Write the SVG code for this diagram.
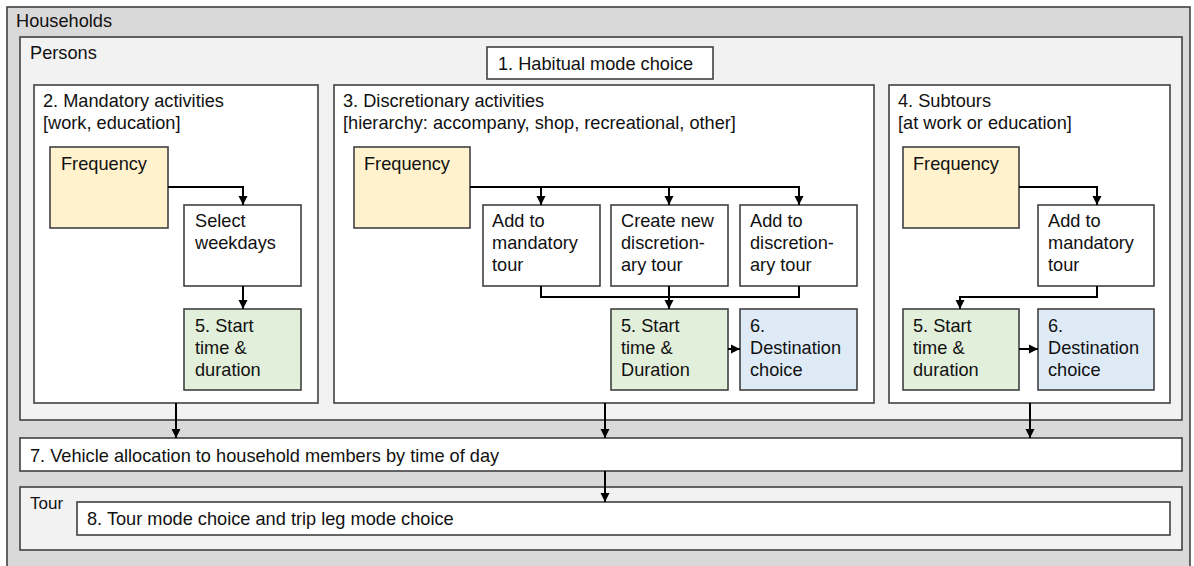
<svg xmlns="http://www.w3.org/2000/svg" width="1194" height="566" viewBox="0 0 1194 566">
<style>
text{font-family:"Liberation Sans",Arial,sans-serif;font-size:18.2px;fill:#111111}
.box{stroke:#404040;stroke-width:1.6}
.w{fill:#ffffff}
.y{fill:#fff2cc}
.g{fill:#e2efda}
.b{fill:#deebf7}
.con{fill:none;stroke:#000;stroke-width:2}
</style>
<defs>
<marker id="ah" markerUnits="userSpaceOnUse" markerWidth="10" markerHeight="10" refX="9" refY="5" orient="auto">
<path d="M0,0.5 L9,5 L0,9.5 z" fill="#000"/>
</marker>
</defs>
<rect width="1194" height="566" fill="#ffffff"/>
<g id="households">
<rect class="box" x="7" y="7" width="1183" height="570" fill="#d9d9d9"/>
<text x="16" y="27">Households</text>
</g>
<g id="persons">
<rect class="box" x="20" y="37" width="1162" height="383" fill="#f2f2f2"/>
<text x="30" y="59">Persons</text>
</g>
<g id="habitual">
<rect class="box w" x="487" y="47" width="226" height="32"/>
<text x="498" y="70">1. Habitual mode choice</text>
</g>
<g id="mandatory">
<rect class="box w" x="34" y="85" width="284" height="318"/>
<text x="43" y="107">2. Mandatory activities</text>
<text x="43" y="129">[work, education]</text>
</g>
<g id="m-frequency">
<rect class="box y" x="50" y="147" width="118" height="81"/>
<text x="61" y="170">Frequency</text>
</g>
<g id="m-weekdays">
<rect class="box w" x="184" y="205" width="117" height="81"/>
<text x="195" y="227">Select</text>
<text x="195" y="249">weekdays</text>
</g>
<g id="m-start">
<rect class="box g" x="184" y="309" width="117" height="81"/>
<text x="195" y="332">5. Start</text>
<text x="195" y="354">time &amp;</text>
<text x="195" y="376">duration</text>
</g>
<g id="discretionary">
<rect class="box w" x="334" y="85" width="540" height="318"/>
<text x="343" y="107">3. Discretionary activities</text>
<text x="343" y="129">[hierarchy: accompany, shop, recreational, other]</text>
</g>
<g id="d-frequency">
<rect class="box y" x="354" y="147" width="116" height="81"/>
<text x="364" y="170">Frequency</text>
</g>
<g id="d-addmand">
<rect class="box w" x="483" y="205" width="117" height="81"/>
<text x="492" y="227">Add to</text>
<text x="492" y="249">mandatory</text>
<text x="492" y="271">tour</text>
</g>
<g id="d-create">
<rect class="box w" x="611" y="205" width="117" height="81"/>
<text x="621" y="227">Create new</text>
<text x="621" y="249">discretion-</text>
<text x="621" y="271">ary tour</text>
</g>
<g id="d-adddisc">
<rect class="box w" x="740" y="205" width="117" height="81"/>
<text x="750" y="227">Add to</text>
<text x="750" y="249">discretion-</text>
<text x="750" y="271">ary tour</text>
</g>
<g id="d-start">
<rect class="box g" x="611" y="309" width="117" height="81"/>
<text x="621" y="332">5. Start</text>
<text x="621" y="354">time &amp;</text>
<text x="621" y="376">Duration</text>
</g>
<g id="d-dest">
<rect class="box b" x="740" y="309" width="117" height="81"/>
<text x="750" y="332">6.</text>
<text x="750" y="354">Destination</text>
<text x="750" y="376">choice</text>
</g>
<g id="subtours">
<rect class="box w" x="889" y="85" width="281" height="318"/>
<text x="898" y="107">4. Subtours</text>
<text x="898" y="129">[at work or education]</text>
</g>
<g id="s-frequency">
<rect class="box y" x="903" y="147" width="116" height="81"/>
<text x="913" y="170">Frequency</text>
</g>
<g id="s-addmand">
<rect class="box w" x="1038" y="205" width="116" height="81"/>
<text x="1048" y="227">Add to</text>
<text x="1048" y="249">mandatory</text>
<text x="1048" y="271">tour</text>
</g>
<g id="s-start">
<rect class="box g" x="903" y="309" width="116" height="81"/>
<text x="913" y="332">5. Start</text>
<text x="913" y="354">time &amp;</text>
<text x="913" y="376">duration</text>
</g>
<g id="s-dest">
<rect class="box b" x="1038" y="309" width="116" height="81"/>
<text x="1048" y="332">6.</text>
<text x="1048" y="354">Destination</text>
<text x="1048" y="376">choice</text>
</g>
<g id="vehicle">
<rect class="box w" x="20" y="438" width="1162" height="33"/>
<text x="30" y="462">7. Vehicle allocation to household members by time of day</text>
</g>
<g id="tour">
<rect class="box" x="20" y="487" width="1162" height="63" fill="#f2f2f2"/>
<text x="30" y="509" style="font-size:17px">Tour</text>
</g>
<g id="tourmode">
<rect class="box w" x="77" y="502" width="1093" height="33"/>
<text x="87" y="525">8. Tour mode choice and trip leg mode choice</text>
</g>
<g id="connectors">
<path class="con" d="M168,187 H243 V205" marker-end="url(#ah)"/>
<path class="con" d="M243,286 V309" marker-end="url(#ah)"/>
<path class="con" d="M470,187 H799 V205" marker-end="url(#ah)"/>
<path class="con" d="M541,187 V205" marker-end="url(#ah)"/>
<path class="con" d="M669,187 V205" marker-end="url(#ah)"/>
<path class="con" d="M541,286 V297 H799 V286"/>
<path class="con" d="M669,286 V309" marker-end="url(#ah)"/>
<path class="con" d="M728,349 H740" marker-end="url(#ah)"/>
<path class="con" d="M1019,187 H1097 V205" marker-end="url(#ah)"/>
<path class="con" d="M1097,286 V297 H960 V309" marker-end="url(#ah)"/>
<path class="con" d="M1019,349 H1038" marker-end="url(#ah)"/>
<path class="con" d="M176,403 V438" marker-end="url(#ah)"/>
<path class="con" d="M605,403 V438" marker-end="url(#ah)"/>
<path class="con" d="M1030,403 V438" marker-end="url(#ah)"/>
<path class="con" d="M605,471 V502" marker-end="url(#ah)"/>
</g>
</svg>
